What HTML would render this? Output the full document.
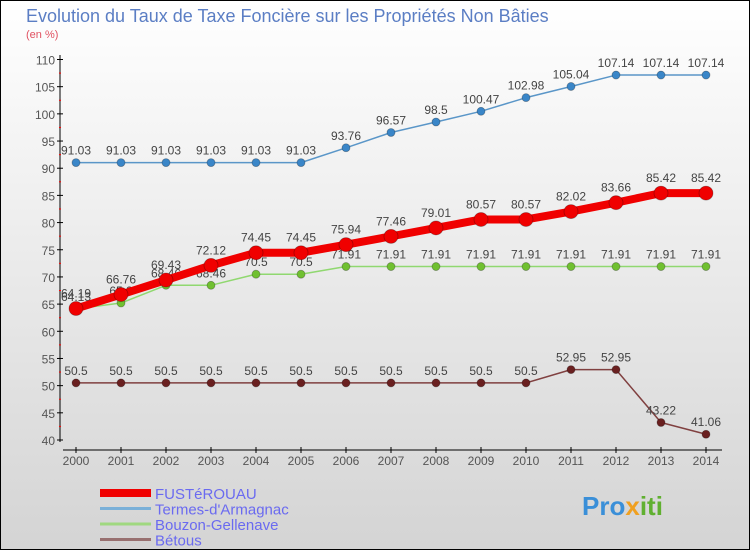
<!DOCTYPE html>
<html><head><meta charset="utf-8"><style>
body{margin:0}
#c{width:750px;height:550px;position:relative;overflow:hidden;font-family:"Liberation Sans","DejaVu Sans",sans-serif}
</style></head><body>
<div id="c">
<svg id="s" width="750" height="550" xmlns="http://www.w3.org/2000/svg">
<defs><linearGradient id="bg" x1="0" y1="0" x2="0" y2="1"><stop offset="0" stop-color="#ffffff"/><stop offset="1" stop-color="#d4d4d4"/></linearGradient></defs>
<rect x="0.5" y="0.5" width="749" height="549" fill="url(#bg)" stroke="#000"/>
<text x="26" y="22" font-size="18" fill="#5b7ec4">Evolution du Taux de Taxe Foncière sur les Propriétés Non Bâties</text>
<text x="26" y="38" font-size="11" fill="#e05060">(en %)</text>
<g id="axes"></g><g id="series"></g><g id="legend"></g>
<text x="582" y="515" font-size="26" font-weight="bold" fill="#3a8fd8">Pro<tspan fill="#f0a020">x</tspan><tspan fill="#60b030">iti</tspan></text>
</svg></div>
<script>
const years=["2000","2001","2002","2003","2004","2005","2006","2007","2008","2009","2010","2011","2012","2013","2014"];
const yTicks=[40,45,50,55,60,65,70,75,80,85,90,95,100,105,110];
const seriesNames=["FUSTéROUAU","Termes-d'Armagnac","Bouzon-Gellenave","Bétous"];
const fusterouau=[64.19,66.76,69.43,72.12,74.45,74.45,75.94,77.46,79.01,80.57,80.57,82.02,83.66,85.42,85.42];
const termes=[91.03,91.03,91.03,91.03,91.03,91.03,93.76,96.57,98.5,100.47,102.98,105.04,107.14,107.14,107.14];
const bouzon=[64.13,65.2,68.46,68.46,70.5,70.5,71.91,71.91,71.91,71.91,71.91,71.91,71.91,71.91,71.91];
const betous=[50.5,50.5,50.5,50.5,50.5,50.5,50.5,50.5,50.5,50.5,50.5,52.95,52.95,43.22,41.06];
const NS="http://www.w3.org/2000/svg";
const X=i=>76+i*45;
const Y=v=>440-(v-40)*(380.5/70);
function mk(t,a,p){const e=document.createElementNS(NS,t);for(const k in a)e.setAttribute(k,a[k]);p.appendChild(e);return e;}
const ax=document.getElementById('axes');
let yl=mk('line',{x1:60,y1:55,x2:60,y2:442,stroke:'#000'},ax);


yTicks.forEach(v=>{
 mk('line',{x1:57,y1:Y(v),x2:63,y2:Y(v),stroke:'#000'},ax);
 if(v<110) mk('line',{x1:59,y1:Y(v+2.5),x2:61,y2:Y(v+2.5),stroke:'#f00'},ax);
 const t=mk('text',{x:55,y:Y(v)+5,'font-size':12,'text-anchor':'end',fill:'#555'},ax);
 
 
 t.textContent=v;
});
let xl=mk('line',{x1:63,y1:450,x2:722,y2:450,stroke:'#000'},ax);


years.forEach((y,i)=>{
 mk('line',{x1:X(i),y1:447,x2:X(i),y2:453,stroke:'#000'},ax);
 const t=mk('text',{x:X(i),y:465,'font-size':12,'text-anchor':'middle',fill:'#555'},ax);
 
 
 t.textContent=y;
});
const sg=document.getElementById('series');
function draw(vals,name,col,w,r,dot){
 const g=mk('g',{},sg);
 
 
 mk('polyline',{points:vals.map((v,i)=>X(i)+','+Y(v)).join(' '),fill:'none',stroke:col,'stroke-width':w,'stroke-linejoin':'round'},g);
 vals.forEach((v,i)=>{
  const c=mk('circle',{cx:X(i),cy:Y(v),r:r,fill:dot,stroke:'rgba(0,0,0,0.3)','stroke-width':0.8},g);
  
  
  const t=mk('text',{x:X(i),y:Y(v)-8-(w>3?3:0),'font-size':12,'text-anchor':'middle',fill:'#444'},g);
  
  
  t.textContent=v;
 });
}
draw(termes,'termes','#5a96c8',1.5,4,'#3a86c8');
draw(betous,'betous','#804040',1.5,4,'#6a2020');
draw(bouzon,'bouzon','#90d870',1.5,4,'#70c030');
draw(fusterouau,'fusterouau','#f00000',8,7,'#f00000');
const lg=document.getElementById('legend');
const lc=['#f00000','#7ab0d8','#a0d880','#987070'];
const lw=[8,3,3,3];
seriesNames.forEach((n,i)=>{
 const g=mk('g',{},lg);
 
 
 const yy=493+i*15.5;
 mk('line',{x1:100,y1:yy,x2:151,y2:yy,stroke:lc[i],'stroke-width':lw[i]},g);
 const t=mk('text',{x:155,y:yy+6,'font-size':15,fill:'#6a6af0'},g);
 t.textContent=n;
});
</script>
</body></html>
